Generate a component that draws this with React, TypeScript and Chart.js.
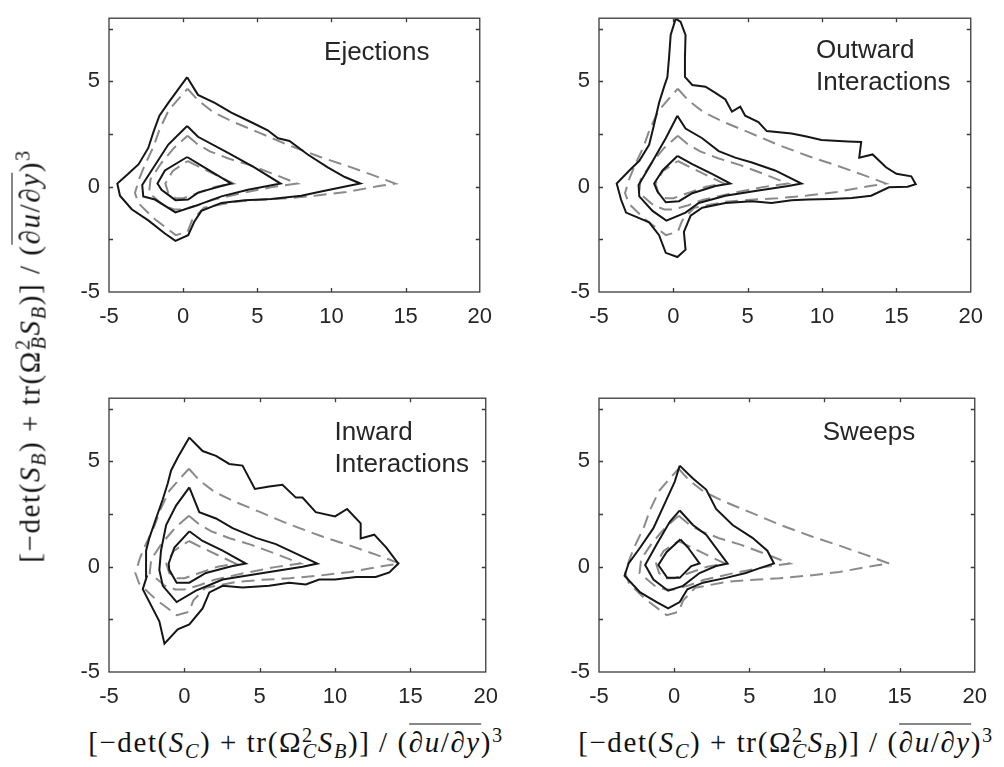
import React, { useEffect, useRef } from "react";
import { Chart, registerables } from "chart.js";

Chart.register(...registerables);

type Pt = [number, number];

// Axis ranges and ticks shared by all four panels
const xMin = -5;
const xMax = 20;
const yMin = -5;
const yMax = 8;
const xTickValues = [-5, 0, 5, 10, 15, 20];
const yTickValues = [-5, 0, 5];
const xTickMarks = [0, 5, 10, 15];
const yTickMarks = [-2.5, 0, 2.5, 5, 7.5];

// Dashed reference contours (same levels in every panel)
const refOuter: Pt[] = [
  [0.3, 4.65], [1.0, 4.1], [2.0, 3.55], [3.3, 3.1], [5.0, 2.6], [7.0, 2.0], [9.2, 1.42],
  [11.0, 1.0], [12.8, 0.55], [14.3, 0.15], [13.2, 0.03], [11.0, -0.25], [9.0, -0.42],
  [7.0, -0.55], [5.0, -0.63], [3.5, -0.72], [1.4, -1.0], [0.6, -1.6], [0.3, -2.14],
  [-0.5, -2.3], [-1.9, -1.55], [-3.0, -0.8], [-3.25, -0.3], [-2.95, 0.4], [-2.6, 1.0],
  [-2.0, 1.9], [-1.6, 2.7], [-1.0, 3.6], [-0.4, 4.1], [0.3, 4.65],
];
const refMiddle: Pt[] = [
  [0.3, 2.42], [1.0, 2.0], [1.8, 1.68], [3.0, 1.35], [4.4, 1.05], [6.1, 0.6], [7.7, 0.15],
  [6.0, -0.02], [4.0, -0.3], [2.0, -0.62], [1.0, -0.88], [0.0, -1.08], [-0.6, -1.08],
  [-1.3, -0.9], [-2.3, -0.3], [-2.2, 0.35], [-1.5, 1.1], [-0.6, 1.85], [0.3, 2.42],
];
const refInner: Pt[] = [
  [0.3, 1.22], [1.2, 0.9], [2.5, 0.45], [3.4, 0.15], [2.2, 0.0], [1.0, -0.3], [0.0, -0.55],
  [-0.5, -0.55], [-1.0, -0.3], [-1.2, 0.15], [-0.7, 0.75], [0.3, 1.22],
];

// Ejections
const ejectionsOuter: Pt[] = [
  [0.27, 5.2], [1.0, 4.36], [2.13, 3.98], [3.25, 3.52], [4.6, 3.06], [5.7, 2.68], [6.4, 2.3],
  [7.17, 2.17], [8.4, 1.53], [9.75, 0.92], [10.9, 0.46], [11.95, 0.15], [11.1, 0.03],
  [9.3, -0.23], [7.96, -0.43], [5.94, -0.58], [4.15, -0.64], [2.58, -0.77], [1.23, -1.15],
  [0.74, -1.68], [0.34, -2.3], [-0.52, -2.57], [-1.23, -2.22], [-2.35, -1.6], [-3.47, -1.07],
  [-4.26, -0.43], [-4.44, 0.15], [-3.7, 0.61], [-3.0, 1.07], [-2.35, 1.84], [-2.0, 2.6],
  [-1.6, 3.37], [-1.0, 3.98], [0.27, 5.2],
];
const ejectionsMiddle: Pt[] = [
  [0.27, 2.88], [1.0, 2.37], [3.03, 1.6], [4.8, 0.92], [6.57, 0.15], [5.7, 0.03], [4.37, -0.15],
  [2.58, -0.46], [0.78, -0.92], [-0.52, -1.22], [-1.9, -0.61], [-2.69, -0.46], [-2.76, 0.08],
  [-2.13, 0.77], [-1.0, 2.0], [0.27, 2.88],
];
const ejectionsInner: Pt[] = [
  [0.27, 1.41], [1.23, 1.0], [3.25, 0.15], [2.58, 0.03], [1.0, -0.28], [0.34, -0.61],
  [-0.52, -0.64], [-1.46, -0.15], [-1.73, 0.15], [-1.23, 0.77], [0.27, 1.41],
];

// Outward interactions
const outwardOuter: Pt[] = [
  [0.16, 7.98], [0.49, 7.82], [0.82, 7.2], [0.78, 6.13], [0.78, 5.21], [1.27, 4.83],
  [2.16, 4.75], [2.83, 4.45], [3.5, 4.14], [3.94, 3.56], [4.5, 3.8], [4.83, 3.37],
  [5.72, 3.07], [6.28, 2.64], [7.95, 2.53], [8.95, 2.38], [9.96, 2.22], [11.74, 2.15],
  [12.63, 2.12], [12.5, 1.38], [13.4, 1.53], [14.3, 0.92], [15.0, 0.61], [16.0, 0.49],
  [16.3, 0.12], [15.75, 0.0], [14.5, -0.03], [13.3, -0.43], [12.0, -0.54], [10.6, -0.58],
  [9.06, -0.61], [7.95, -0.64], [6.6, -0.77], [5.28, -0.69], [3.5, -0.77], [1.94, -1.0],
  [1.16, -1.38], [0.71, -2.15], [0.82, -2.99], [0.27, -3.34], [-0.51, -3.14], [-0.96, -2.3],
  [-1.63, -1.69], [-3.18, -1.23], [-3.52, -0.61], [-3.81, 0.15], [-2.96, 0.77],
  [-2.29, 1.23], [-1.63, 1.99], [-1.36, 2.76], [-0.96, 3.99], [-0.62, 4.75], [-0.4, 5.21],
  [-0.29, 6.13], [-0.18, 7.2], [0.16, 7.98],
];
const outwardMiddle: Pt[] = [
  [0.27, 3.37], [0.82, 2.76], [1.94, 2.3], [3.05, 1.69], [4.16, 1.38], [5.28, 1.15],
  [6.84, 0.77], [8.62, 0.15], [7.73, 0.03], [5.72, -0.18], [3.5, -0.43], [1.71, -0.77],
  [0.82, -1.23], [-0.47, -1.61], [-1.4, -1.15], [-2.29, -0.46], [-2.34, 0.08], [-1.63, 0.92],
  [-0.51, 2.3], [0.27, 3.37],
];
const outwardInner: Pt[] = [
  [0.27, 1.46], [1.27, 1.07], [2.6, 0.61], [3.83, 0.15], [2.83, 0.03], [1.27, -0.31],
  [0.38, -0.69], [-0.51, -0.74], [-1.07, -0.23], [-1.29, 0.15], [-0.73, 0.77], [0.27, 1.46],
];

// Inward interactions
const inwardOuter: Pt[] = [
  [0.33, 6.13], [1.21, 5.49], [2.1, 5.26], [2.98, 4.88], [3.86, 4.8], [4.68, 3.69],
  [5.63, 3.81], [6.51, 3.89], [7.4, 3.28], [7.84, 3.28], [8.72, 2.59], [10.0, 2.39],
  [10.8, 2.74], [11.7, 2.06], [11.7, 1.34], [12.6, 1.52], [13.4, 0.91], [14.2, 0.15],
  [13.6, -0.27], [12.7, -0.49], [11.4, -0.49], [10.0, -0.61], [8.94, -0.61], [8.06, -0.84],
  [6.95, -0.76], [5.63, -0.91], [3.86, -0.99], [2.54, -0.91], [1.66, -1.22], [1.21, -1.98],
  [0.33, -2.74], [-0.44, -2.97], [-1.32, -3.66], [-1.66, -2.59], [-2.76, -1.07],
  [-2.49, -0.46], [-2.54, 0.76], [-2.32, 1.37], [-1.88, 2.29], [-1.43, 3.2], [-1.1, 3.96],
  [-0.88, 4.57], [-0.44, 5.18], [0.33, 6.13],
];
const inwardMiddle: Pt[] = [
  [0.33, 3.77], [0.99, 2.59], [2.1, 2.29], [3.2, 1.83], [4.75, 1.37], [6.07, 1.07],
  [8.83, 0.15], [7.84, 0.0], [5.85, -0.23], [4.08, -0.43], [2.54, -0.61], [0.77, -1.14],
  [-0.51, -1.68], [-1.43, -0.91], [-1.66, -0.15], [-1.55, 0.76], [-1.21, 1.98],
  [-0.55, 2.9], [0.33, 3.77],
];
const inwardInner: Pt[] = [
  [0.33, 1.68], [1.21, 1.22], [2.54, 0.76], [4.08, 0.15], [3.2, 0.03], [1.43, -0.3],
  [0.33, -0.76], [-0.51, -0.76], [-1.0, -0.15], [-1.04, 0.15], [-0.66, 0.91], [0.33, 1.68],
];

// Sweeps
const sweepsOuter: Pt[] = [
  [0.37, 4.8], [1.25, 4.19], [2.13, 3.66], [2.79, 2.74], [3.89, 1.98], [5.21, 1.37],
  [6.2, 0.76], [6.64, 0.15], [5.65, -0.08], [4.77, -0.3], [3.45, -0.53], [1.91, -0.76],
  [0.88, -1.07], [0.37, -1.68], [-0.4, -1.98], [-1.16, -1.68], [-2.26, -1.22], [-3.3, -0.43],
  [-3.03, 0.15], [-2.26, 0.91], [-1.38, 1.83], [-0.5, 3.2], [0.04, 4.04], [0.37, 4.8],
];
const sweepsMiddle: Pt[] = [
  [0.37, 2.67], [1.25, 1.98], [2.13, 1.52], [3.56, 0.15], [2.79, 0.03], [1.69, -0.3],
  [0.59, -0.91], [-0.4, -1.14], [-1.38, -0.61], [-1.93, 0.08], [-1.16, 1.07], [-0.29, 2.13],
  [0.37, 2.67],
];
const sweepsInner: Pt[] = [
  [0.42, 1.3], [0.92, 0.91], [1.69, 0.15], [1.14, 0.03], [0.37, -0.53], [-0.46, -0.53],
  [-1.05, 0.08], [-0.51, 0.69], [0.42, 1.3],
];

// Panel titles
const ejectionsTitle = ["Ejections"];
const outwardTitle = ["Outward", "Interactions"];
const inwardTitle = ["Inward", "Interactions"];
const sweepsTitle = ["Sweeps"];

const TEXT = "#262626";
const SANS = '"Liberation Sans", Arial, Helvetica, sans-serif';
const SERIF = '"Liberation Serif", "DejaVu Serif", "Times New Roman", serif';

// canvas margins around the plot box
const PAD_L = 60;
const PAD_T = 12;
const PAD_R = 22;
const PAD_B = 45;
const TICK_LEN = 4;

type PanelSpec = {
  box: { left: number; top: number; width: number; height: number };
  solid: Pt[][];
  title: string[];
  titleX: number;
  titleY: number[];
};

const panels: PanelSpec[] = [
  {
    box: { left: 109, top: 8, width: 373, height: 284 },
    solid: [ejectionsOuter, ejectionsMiddle, ejectionsInner],
    title: ejectionsTitle,
    titleX: 9.5,
    titleY: [6.0],
  },
  {
    box: { left: 599, top: 8, width: 374, height: 284 },
    solid: [outwardOuter, outwardMiddle, outwardInner],
    title: outwardTitle,
    titleX: 9.6,
    titleY: [6.1, 4.6],
  },
  {
    box: { left: 109, top: 388, width: 379, height: 284 },
    solid: [inwardOuter, inwardMiddle, inwardInner],
    title: inwardTitle,
    titleX: 9.97,
    titleY: [6.0, 4.48],
  },
  {
    box: { left: 599, top: 388, width: 378, height: 284 },
    solid: [sweepsOuter, sweepsMiddle, sweepsInner],
    title: sweepsTitle,
    titleX: 9.88,
    titleY: [6.0],
  },
];

const toXY = (pts: Pt[]) => pts.map(([x, y]) => ({ x, y }));

// Box frame with inward ticks on all four sides, plus the in-axes title
const framePlugin = {
  id: "frameBox",
  afterDraw(chart: any, _args: any, opts: any) {
    const { ctx, chartArea: a, scales } = chart;
    const xs = scales.x;
    const ys = scales.y;
    ctx.save();
    ctx.strokeStyle = "#3a3a3a";
    ctx.lineWidth = 1.3;
    ctx.strokeRect(a.left, a.top, a.right - a.left, a.bottom - a.top);
    ctx.beginPath();
    for (const v of xTickMarks) {
      const px = Math.round(xs.getPixelForValue(v)) + 0.5;
      ctx.moveTo(px, a.bottom);
      ctx.lineTo(px, a.bottom - TICK_LEN);
      ctx.moveTo(px, a.top);
      ctx.lineTo(px, a.top + TICK_LEN);
    }
    for (const v of yTickMarks) {
      const py = Math.round(ys.getPixelForValue(v)) + 0.5;
      ctx.moveTo(a.left, py);
      ctx.lineTo(a.left + TICK_LEN, py);
      ctx.moveTo(a.right, py);
      ctx.lineTo(a.right - TICK_LEN, py);
    }
    ctx.stroke();
    ctx.fillStyle = TEXT;
    ctx.font = `26px ${SANS}`;
    ctx.textAlign = "left";
    ctx.textBaseline = "alphabetic";
    (opts.title as string[]).forEach((line, i) => {
      ctx.fillText(line, xs.getPixelForValue(opts.titleX), ys.getPixelForValue(opts.titleY[i]));
    });
    ctx.restore();
  },
};

function Panel({ spec }: { spec: PanelSpec }) {
  const ref = useRef<HTMLCanvasElement>(null);
  const w = spec.box.width + PAD_L + PAD_R;
  const h = spec.box.height + PAD_T + PAD_B;

  useEffect(() => {
    const solidSets = spec.solid.map((pts) => ({
      data: toXY(pts),
      showLine: true,
      borderColor: "#161616",
      borderWidth: 2,
      pointRadius: 0,
      tension: 0,
      fill: false,
    }));
    const dashedSets = [refOuter, refMiddle, refInner].map((pts) => ({
      data: toXY(pts),
      showLine: true,
      borderColor: "#8a8a8a",
      borderWidth: 2,
      borderDash: [13, 7],
      pointRadius: 0,
      tension: 0,
      fill: false,
    }));
    const chart = new Chart(ref.current!, {
      type: "scatter",
      data: { datasets: [...solidSets, ...dashedSets] as any },
      plugins: [framePlugin as any],
      options: {
        animation: false,
        responsive: false,
        devicePixelRatio: 1,
        layout: { padding: { top: PAD_T, right: PAD_R, left: 0, bottom: 0 } },
        plugins: {
          legend: { display: false },
          tooltip: { enabled: false },
          frameBox: { title: spec.title, titleX: spec.titleX, titleY: spec.titleY },
        } as any,
        scales: {
          x: {
            type: "linear",
            min: xMin,
            max: xMax,
            grid: { display: false, drawTicks: false },
            border: { display: false },
            afterBuildTicks: (axis: any) => {
              axis.ticks = xTickValues.map((value) => ({ value }));
            },
            afterFit: (scale: any) => {
              scale.height = PAD_B;
            },
            ticks: {
              color: TEXT,
              font: { family: SANS, size: 22 },
              padding: 12,
              maxRotation: 0,
              autoSkip: false,
            },
          },
          y: {
            type: "linear",
            min: yMin,
            max: yMax,
            grid: { display: false, drawTicks: false },
            border: { display: false },
            afterBuildTicks: (axis: any) => {
              axis.ticks = yTickValues.map((value) => ({ value }));
            },
            afterFit: (scale: any) => {
              scale.width = PAD_L;
            },
            ticks: {
              color: TEXT,
              font: { family: SANS, size: 22 },
              padding: 9,
              autoSkip: false,
            },
          },
        },
      } as any,
    });
    return () => chart.destroy();
  }, [spec]);

  return (
    <canvas
      ref={ref}
      width={w}
      height={h}
      style={{
        position: "absolute",
        left: spec.box.left - PAD_L,
        top: spec.box.top - PAD_T,
        width: w,
        height: h,
      }}
    />
  );
}

const small: React.CSSProperties = { fontSize: "0.7em", lineHeight: 0, position: "relative" };

function Sup({ children }: { children: React.ReactNode }) {
  return <span style={{ ...small, top: "-0.5em" }}>{children}</span>;
}

function Sub({ children, back }: { children: React.ReactNode; back?: string }) {
  return <span style={{ ...small, top: "0.28em", marginLeft: back }}>{children}</span>;
}

const gap: React.CSSProperties = { margin: "0 0.3em" };

function AxisLabel({ first, omega }: { first: string; omega: string }) {
  return (
    <span
      style={{
        fontFamily: SERIF,
        fontSize: 29,
        letterSpacing: "1.6px",
        color: "#111",
        whiteSpace: "nowrap",
        lineHeight: 1,
      }}
    >
      [−det(<i>S</i>
      <Sub>
        <i>{first}</i>
      </Sub>
      )<span style={gap}>+</span>tr(Ω<Sup>2</Sup>
      <Sub back="-0.55em">
        <i>{omega}</i>
      </Sub>
      <i>S</i>
      <Sub>
        <i>B</i>
      </Sub>
      )]<span style={gap}>/</span>(
      <span style={{ borderTop: "1.4px solid #111", paddingTop: 1 }}>
        ∂<i>u</i>/∂<i>y</i>
      </span>
      )<Sup>3</Sup>
    </span>
  );
}

export default function App() {
  return (
    <div
      style={{
        position: "absolute",
        left: 0,
        top: 0,
        width: 1004,
        height: 767,
        background: "#fff",
        overflow: "hidden",
      }}
    >
      {panels.map((p, i) => (
        <Panel key={i} spec={p} />
      ))}
      <div
        style={{
          position: "absolute",
          left: 30,
          top: 356,
          transform: "translate(-50%, -50%) rotate(-90deg)",
        }}
      >
        <AxisLabel first="B" omega="B" />
      </div>
      <div style={{ position: "absolute", left: 296, top: 742, transform: "translate(-50%, -50%)" }}>
        <AxisLabel first="C" omega="C" />
      </div>
      <div style={{ position: "absolute", left: 786, top: 742, transform: "translate(-50%, -50%)" }}>
        <AxisLabel first="C" omega="C" />
      </div>
    </div>
  );
}
